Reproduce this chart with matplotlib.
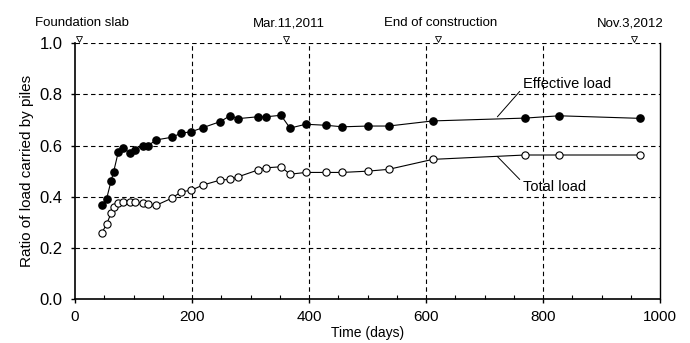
import matplotlib
matplotlib.use("Agg")
import matplotlib.pyplot as plt

plt.rcParams['font.family'] = ['Liberation Sans', 'DejaVu Sans']

days = [46, 54, 61.5, 66, 74, 82, 93.5, 103, 117, 125, 139, 165, 181.5, 199, 219,
        248, 265, 279, 312, 326, 352, 367.6, 394.5, 429, 457, 500.5, 536, 611.6,
        769.5, 827.6, 966]
effective = [0.368, 0.392, 0.46, 0.497, 0.575, 0.59, 0.572, 0.583, 0.60, 0.60, 0.622,
             0.632, 0.648, 0.654, 0.67, 0.693, 0.716, 0.705, 0.712, 0.712, 0.718,
             0.668, 0.683, 0.679, 0.673, 0.676, 0.676, 0.696, 0.707, 0.716, 0.706]
total = [0.26, 0.293, 0.335, 0.359, 0.374, 0.381, 0.38, 0.38, 0.374, 0.37, 0.367,
         0.394, 0.419, 0.426, 0.446, 0.465, 0.468, 0.478, 0.504, 0.513, 0.517,
         0.488, 0.495, 0.495, 0.495, 0.50, 0.507, 0.546, 0.563, 0.563, 0.563]

event_days = [7, 360, 620, 955]
event_labels = ["Foundation slab", "Mar.11,2011", "End of construction", "Nov.3,2012"]
event_label_x = [12, 365, 625, 950]

xticks = [0, 200, 400, 600, 800, 1000]
yticks = [0.0, 0.2, 0.4, 0.6, 0.8, 1.0]

fig = plt.figure(figsize=(6.9, 3.43), dpi=100)
ax = fig.add_axes([75/690, 1-299.3/343, 585/690, 256.3/343])

ax.plot(days, effective, color='black', lw=0.8, marker='o', ms=5.2,
        mfc='black', mec='black', zorder=3)
ax.plot(days, total, color='black', lw=0.8, marker='o', ms=5.2,
        mfc='white', mec='black', mew=0.8, zorder=3)

ax.set_xlim(0, 1000)
ax.set_ylim(0, 1.0)
ax.set_xticks(xticks)
ax.set_yticks(yticks)
ax.set_xticklabels([str(v) for v in xticks])
ax.set_yticklabels(["%.1f" % v for v in yticks])
ax.set_xticks(range(0, 1001, 50), minor=True)

for v in xticks[1:-1]:
    ax.axvline(v, color='black', lw=0.8, ls=(0, (4, 3)), zorder=1)
for v in yticks[1:]:
    ax.axhline(v, color='black', lw=0.8, ls=(0, (4, 3)), zorder=1)

ax.spines['top'].set_visible(False)
ax.spines['left'].set_linewidth(1.2)
ax.spines['bottom'].set_linewidth(1.2)
ax.spines['right'].set_linewidth(1.0)

ax.tick_params(axis='x', which='major', direction='out', length=3, width=1,
               labelsize=11, pad=5)
ax.tick_params(axis='x', which='minor', direction='in', length=3, width=0.8)
ax.tick_params(axis='y', which='major', direction='out', length=3, width=1,
               labelsize=12, pad=6)

ax.set_ylabel("Ratio of load carried by piles", fontsize=11, labelpad=4)
ax.set_xlabel("Time (days)", fontsize=10, labelpad=1)

# event markers above the plot
for d, lab, lx in zip(event_days, event_labels, event_label_x):
    ax.plot([d], [1.015], marker='v', ms=4, mfc='white', mec='black', mew=0.6,
            clip_on=False, zorder=4)
    ax.text(lx, 1.078, lab, ha='center', va='center', fontsize=9.5,
            transform=ax.transData, clip_on=False)

# series labels with leader lines
ax.annotate("Effective load", xy=(722, 0.712), xytext=(765, 0.84),
            ha='left', va='center', fontsize=10.5,
            arrowprops=dict(arrowstyle='-', color='black', lw=0.7,
                            shrinkA=0, shrinkB=0,
                            relpos=(0, 0.2)))
ax.annotate("Total load", xy=(722, 0.557), xytext=(765, 0.44),
            ha='left', va='center', fontsize=10.5,
            arrowprops=dict(arrowstyle='-', color='black', lw=0.7,
                            shrinkA=0, shrinkB=0,
                            relpos=(0, 0.8)))

fig.savefig("out.png", dpi=100)
